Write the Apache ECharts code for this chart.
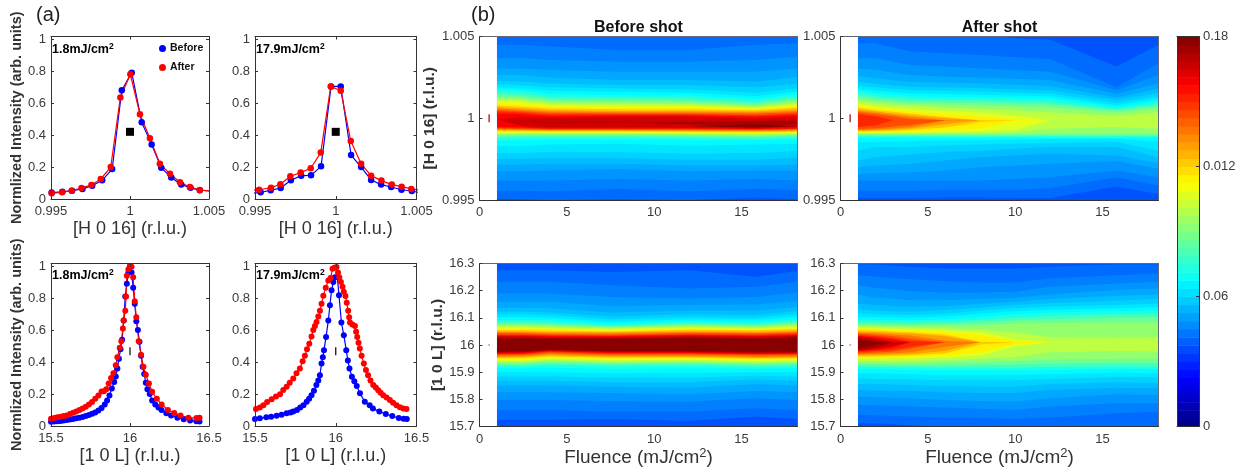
<!DOCTYPE html>
<html>
<head>
<meta charset="utf-8">
<style>html,body{margin:0;padding:0;background:#fff}#c{width:1240px;height:468px}</style>
<script src="https://cdn.jsdelivr.net/npm/echarts@6/dist/echarts.min.js"></script>
</head>
<body>
<div id="c"></div>
<script>
// ---------- line panels (a) ----------
const hScanBefore18X = [0.99448,0.99504,0.99572,0.99633,0.99699,0.99761,0.99824,0.99887,0.99948,1.00011,1.00074,1.00137,1.00198,1.00261,1.00324,1.00383,1.00442,1.00505];
const hScanBefore18Y = [0.02,0.04,0.045,0.052,0.063,0.083,0.117,0.187,0.68,0.79,0.48,0.34,0.195,0.135,0.09,0.07,0.055,0.05];
const hScanAfter18X = [0.99448,0.99504,0.9957,0.99631,0.99693,0.99756,0.99815,0.99878,0.99939,1.00002,1.00063,1.00126,1.00189,1.00253,1.00316,1.00379,1.00442,1.00505];
const hScanAfter18Y = [0.03,0.036,0.042,0.052,0.068,0.088,0.125,0.2,0.635,0.78,0.53,0.38,0.22,0.158,0.105,0.075,0.056,0.05];
const hScanBefore179X = [0.9948,0.99535,0.99597,0.99659,0.99722,0.99786,0.99847,0.99909,0.99971,1.00031,1.00095,1.00157,1.00219,1.00281,1.00343,1.00407,1.00471,1.0052];
const hScanBefore179Y = [0.035,0.042,0.054,0.069,0.117,0.146,0.148,0.204,0.704,0.704,0.275,0.2,0.119,0.09,0.075,0.058,0.05,0.04];
const hScanAfter179X = [0.9948,0.99525,0.99599,0.99657,0.99719,0.99783,0.99845,0.99907,0.99969,1.00031,1.00093,1.00157,1.00219,1.00283,1.00347,1.00408,1.00468,1.0052];
const hScanAfter179Y = [0.054,0.058,0.071,0.092,0.142,0.165,0.192,0.29,0.704,0.677,0.3625,0.22,0.146,0.115,0.09,0.077,0.063,0.055];

const lScanBefore18X = [15.5,15.52,15.54,15.56,15.58,15.6,15.62,15.64,15.66,15.68,15.7,15.72,15.74,15.76,15.78,15.8,15.82,15.84,15.855,15.87,15.885,15.9,15.91,15.92,15.93,15.94,15.95,15.96,15.97,15.98,15.99,16,16.01,16.02,16.03,16.04,16.05,16.06,16.07,16.08,16.09,16.1,16.11,16.125,16.14,16.16,16.18,16.2,16.23,16.26,16.3,16.34,16.38,16.42,16.44];
const lScanBefore18Y = [0.026,0.028,0.03,0.032,0.034,0.037,0.04,0.044,0.048,0.052,0.057,0.062,0.068,0.076,0.085,0.097,0.112,0.135,0.16,0.19,0.235,0.275,0.31,0.36,0.42,0.48,0.54,0.66,0.81,0.89,0.96,1,0.96,0.865,0.765,0.655,0.6,0.526,0.44,0.37,0.325,0.27,0.23,0.2,0.16,0.135,0.115,0.1,0.08,0.065,0.052,0.042,0.035,0.03,0.028];
const lScanAfter18X = [15.5,15.52,15.54,15.56,15.58,15.6,15.62,15.64,15.66,15.68,15.7,15.72,15.74,15.76,15.78,15.8,15.82,15.835,15.85,15.865,15.88,15.895,15.91,15.92,15.935,15.945,15.955,15.96,15.97,15.975,15.98,15.99,16,16.01,16.02,16.03,16.04,16.055,16.07,16.085,16.1,16.12,16.14,16.17,16.2,16.24,16.28,16.32,16.37,16.42,16.44];
const lScanAfter18Y = [0.045,0.05,0.055,0.058,0.062,0.066,0.075,0.083,0.09,0.1,0.11,0.12,0.135,0.15,0.17,0.19,0.215,0.218,0.23,0.265,0.3,0.33,0.38,0.43,0.49,0.53,0.61,0.66,0.72,0.81,0.94,0.98,0.995,0.995,0.93,0.78,0.68,0.53,0.445,0.37,0.32,0.266,0.214,0.17,0.135,0.1,0.082,0.065,0.052,0.05,0.052];
const lScanBefore179X = [15.5,15.53,15.57,15.6,15.634,15.665,15.696,15.72,15.737,15.76,15.78,15.8,15.82,15.835,15.85,15.865,15.88,15.892,15.902,15.912,15.92,15.927,15.94,15.954,15.964,15.974,15.985,15.995,16.01,16.02,16.035,16.05,16.065,16.075,16.085,16.1,16.115,16.13,16.15,16.18,16.21,16.23,16.27,16.31,16.35,16.39,16.42,16.44];
const lScanBefore179Y = [0.044,0.048,0.054,0.058,0.064,0.07,0.08,0.085,0.09,0.1,0.115,0.13,0.152,0.17,0.193,0.22,0.256,0.285,0.318,0.39,0.43,0.474,0.557,0.66,0.755,0.848,0.9,0.93,0.93,0.817,0.647,0.568,0.474,0.41,0.36,0.308,0.28,0.25,0.204,0.152,0.13,0.11,0.09,0.075,0.062,0.05,0.046,0.044];
const lScanAfter179X = [15.506,15.53,15.552,15.575,15.603,15.63,15.655,15.675,15.696,15.715,15.737,15.757,15.778,15.795,15.809,15.822,15.836,15.85,15.861,15.871,15.881,15.892,15.902,15.912,15.923,15.938,15.954,15.968,15.98,15.992,16.005,16.014,16.022,16.032,16.042,16.05,16.06,16.068,16.077,16.083,16.088,16.103,16.119,16.126,16.133,16.141,16.149,16.16,16.174,16.187,16.2,16.215,16.232,16.248,16.263,16.278,16.294,16.315,16.335,16.355,16.376,16.397,16.418,16.438];
const lScanAfter179Y = [0.106,0.115,0.13,0.15,0.168,0.185,0.198,0.225,0.245,0.27,0.297,0.33,0.36,0.405,0.44,0.48,0.515,0.56,0.6,0.625,0.65,0.685,0.72,0.765,0.815,0.865,0.91,0.925,0.983,0.99,0.994,0.96,0.93,0.9,0.87,0.84,0.813,0.77,0.72,0.68,0.647,0.635,0.626,0.59,0.557,0.52,0.484,0.44,0.39,0.35,0.318,0.285,0.256,0.24,0.224,0.208,0.193,0.178,0.162,0.145,0.13,0.118,0.11,0.106];

const hTickValues = [0.995,1,1.005];
const lTickValues = [15.5,16,16.5];
const intensityTicks = [0,0.2,0.4,0.6,0.8,1];
const hResolutionMark = [[1,0.42]];
const lResolutionMark = [[16,0.468]];

// ---------- contour maps (b): colour-scale level, then the ridge offset of that level's
// upper and lower edge at each fluence node. H offsets are in 1e-5 r.l.u. about 1, L offsets in 1e-3 r.l.u. about 16.
const colorLevels = [0.22,0.24,0.26,0.28,0.30,0.32,0.34,0.36,0.38,0.42,0.46,0.50,0.54,0.58,0.62,0.66,0.70,0.74,0.78,0.82,0.86,0.90,0.94,0.98];
const baseLevel = 0.205;
const hUnit = 1e-5, lUnit = 1e-3;

const beforeHNodes = [1,2.5,4,8,12,15.8,18.2];
const beforeHUpper = [
[530,530,530,530,530,530,530],[449,449,439,418,418,449,459],[367,367,357,346,346,357,377],[305,305,295,285,285,285,305],
[264,264,250,234,234,223,254],[230,223,213,203,203,189,213],[209,201,189,182,176,156,182],[189,180,168,162,156,135,164],
[176,168,148,141,139,117,148],[160,152,131,125,123,103,131],[146,135,117,111,109,90,119],[131,123,105,98,96,80,107],
[119,111,94,88,86,72,94],[107,98,84,78,76,64,86],[90,82,72,66,66,57,76],[78,70,59,55,55,49,66],
[68,59,49,45,45,41,55],[59,51,41,37,37,35,45],[51,43,33,31,31,27,37],[43,35,25,25,25,18,29],
[29,25,16,18,18,10,20],[-8,8,4,10,10,-2,8],[-12,-12,-25,-27,-23,-16,-16],[-49,-49,-49,-49,-49,-37,-49]];
const beforeHLower = [
[-492,-496,-500,-496,-500,-484,-494],[-443,-443,-447,-433,-447,-433,-439],[-381,-381,-381,-371,-381,-371,-381],[-324,-324,-320,-310,-324,-320,-320],
[-283,-283,-279,-279,-289,-289,-283],[-248,-248,-242,-244,-254,-254,-242],[-213,-213,-207,-207,-217,-213,-201],[-172,-172,-160,-156,-168,-160,-156],
[-139,-135,-131,-131,-135,-135,-131],[-123,-121,-119,-119,-121,-125,-119],[-111,-109,-107,-107,-111,-115,-109],[-103,-100,-100,-100,-103,-107,-103],
[-96,-94,-94,-94,-96,-100,-96],[-90,-88,-90,-90,-92,-94,-90],[-84,-84,-84,-84,-86,-90,-86],[-78,-78,-80,-80,-82,-84,-82],
[-72,-74,-76,-76,-78,-80,-76],[-68,-70,-72,-72,-74,-76,-72],[-64,-66,-70,-70,-70,-72,-68],[-59,-62,-66,-66,-66,-70,-64],
[-53,-57,-62,-62,-62,-66,-62],[-8,-49,-57,-57,-57,-62,-53],[-12,-12,-29,-29,-37,-53,-37],[-49,-49,-49,-49,-49,-57,-49]];

const afterHNodes = [1,2,3,4,6,8,10,12,15.8,18.2];
const afterHUpper = [
[521,521,521,521,521,510,490,480,316,449],[459,459,433,408,398,387,373,361,189,336],[367,367,346,326,316,305,295,285,172,264],[305,295,280,264,254,250,242,234,148,213],
[258,244,233,223,217,213,205,197,127,180],[223,209,201,193,189,185,176,172,111,156],[197,189,180,172,168,164,156,152,94,135],[180,168,160,152,148,144,139,135,78,119],
[168,152,143,135,131,127,123,119,66,103],[152,135,127,119,113,111,107,100,57,88],[135,119,112,105,98,96,90,86,49,76],[121,105,97,90,84,78,72,66,35,59],
[105,90,83,76,66,57,49,37,14,37],[90,74,66,57,45,33,16,-12,-12,-12],[74,59,49,39,25,8,-8,-12,-12,-12],[64,49,39,29,8,-12,-12,-12,-12,-12],
[53,41,29,18,0,-12,-12,-12,-12,-12],[45,33,21,8,-12,-12,-12,-12,-12,-12],[37,25,10,-4,-12,-12,-12,-12,-12,-12],[25,12,-12,-12,-12,-12,-12,-12,-12,-12]];
const afterHLower = [
[-488,-488,-488,-488,-484,-484,-488,-488,-418,-463],[-443,-443,-443,-443,-439,-439,-439,-426,-361,-412],[-381,-381,-381,-381,-381,-381,-371,-361,-320,-361],[-340,-336,-333,-330,-320,-299,-289,-279,-262,-310],
[-299,-289,-284,-279,-258,-238,-228,-217,-228,-275],[-258,-238,-230,-221,-207,-201,-187,-176,-176,-238],[-197,-176,-176,-176,-166,-160,-156,-152,-146,-197],[-146,-146,-142,-139,-135,-135,-131,-127,-125,-146],
[-119,-119,-119,-119,-119,-119,-119,-119,-119,-119],[-111,-111,-111,-111,-111,-111,-111,-111,-111,-111],[-105,-105,-105,-105,-105,-105,-105,-105,-105,-105],[-98,-98,-98,-98,-98,-98,-98,-94,-94,-94],
[-94,-94,-94,-94,-92,-90,-86,-64,-53,-64],[-90,-90,-89,-88,-84,-78,-70,-12,-12,-12],[-84,-84,-82,-80,-74,-62,-16,-12,-12,-12],[-80,-78,-76,-70,-57,-23,-12,-12,-12,-12],
[-76,-74,-69,-62,-37,-12,-12,-12,-12,-12],[-72,-68,-62,-53,-16,-12,-12,-12,-12,-12],[-66,-62,-50,-41,-12,-12,-12,-12,-12,-12],[-53,-45,-12,-12,-12,-12,-12,-12,-12,-12]];

const beforeLNodes = [1,2.5,4,7.5,12,15.8,18.2];
const beforeLUpper = [
[275,275,275,269,275,251,272],[233,233,233,220,208,214,233],[190,190,190,177,171,177,193],[159,159,159,144,147,149,162],
[137,137,135,120,127,127,140],[122,122,120,105,113,110,125],[113,113,110,95,103,100,115],[103,103,100,86,95,93,105],
[93,93,91,78,88,84,95],[86,86,83,73,82,78,88],[80,80,77,69,77,73,82],[75,75,72,65,72,69,77],
[70,70,67,61,69,65,72],[65,65,62,58,65,61,67],[60,60,58,54,60,58,62],[55,55,53,50,56,54,58],
[50,50,48,47,51,49,53],[47,47,44,43,48,45,49],[43,43,40,39,44,42,45],[39,39,37,35,40,38,42],
[35,35,33,33,37,34,38],[32,32,29,29,33,31,34],[28,28,26,26,29,27,31],[24,24,23,23,26,23,26]];
const beforeLLower = [
[-275,-275,-275,-272,-279,-263,-272],[-239,-239,-239,-245,-245,-233,-239],[-202,-202,-202,-206,-208,-196,-202],[-174,-174,-174,-177,-181,-169,-174],
[-149,-149,-149,-154,-157,-144,-149],[-132,-132,-132,-137,-137,-127,-132],[-116,-116,-116,-120,-120,-113,-116],[-100,-100,-100,-104,-103,-100,-100],
[-86,-86,-83,-88,-86,-87,-86],[-78,-78,-73,-78,-76,-80,-78],[-73,-73,-67,-71,-69,-73,-71],[-67,-67,-61,-66,-64,-69,-66],
[-62,-62,-56,-61,-59,-64,-61],[-58,-58,-51,-56,-54,-59,-56],[-53,-53,-47,-51,-50,-54,-53],[-49,-48,-42,-47,-47,-50,-49],
[-45,-44,-37,-43,-43,-47,-45],[-42,-40,-33,-39,-39,-43,-42],[-38,-37,-29,-35,-35,-39,-38],[-34,-33,-26,-32,-32,-35,-34],
[-32,-31,-23,-29,-29,-33,-32],[-29,-28,-21,-27,-27,-31,-29],[-27,-26,-18,-24,-24,-28,-27],[-24,-23,-17,-23,-23,-26,-24]];

const afterLNodes = [1,2,3,4,6,8,10,12,15.8,18.2];
const afterLUpper = [
[296,296,292,288,282,282,282,288,296,296],[257,251,246,242,235,230,230,245,257,263],[220,211,204,198,193,193,196,214,226,233],[186,174,170,165,165,169,174,186,202,208],
[153,147,144,141,144,152,159,169,181,186],[132,127,124,122,129,137,147,154,163,169],[118,113,111,110,115,127,135,142,147,153],[103,103,101,100,105,115,125,130,135,140],
[93,93,92,91,95,103,113,120,125,127],[86,86,84,83,86,93,100,108,113,115],[80,78,77,76,78,83,91,95,100,103],[73,72,71,70,71,73,78,81,83,83],
[69,67,65,64,61,56,47,29,27,29],[64,62,60,58,54,47,22,10,10,10],[59,58,55,53,47,37,12,10,10,10],[54,53,50,47,39,12,10,10,10,10],
[49,48,45,42,32,10,10,10,10,10],[45,43,39,35,16,10,10,10,10,10],[42,38,33,24,10,10,10,10,10,10],[38,33,27,15,10,10,10,10,10,10],
[34,28,20,10,10,10,10,10,10,10],[31,23,10,10,10,10,10,10,10,10],[26,17,10,10,10,10,10,10,10,10],[20,10,10,10,10,10,10,10,10,10]];
const afterLLower = [
[-288,-288,-292,-296,-300,-304,-304,-304,-300,-300],[-257,-259,-261,-263,-267,-269,-272,-267,-251,-245],[-220,-223,-224,-226,-230,-235,-239,-226,-214,-214],[-190,-192,-194,-196,-202,-206,-208,-196,-181,-184],
[-165,-168,-168,-169,-174,-177,-177,-166,-157,-159],[-144,-144,-145,-147,-151,-153,-153,-144,-137,-140],[-122,-125,-126,-127,-130,-130,-130,-125,-118,-120],[-104,-105,-106,-108,-110,-110,-110,-108,-102,-104],
[-88,-89,-90,-92,-94,-94,-95,-92,-88,-89],[-80,-81,-82,-83,-84,-84,-84,-81,-78,-80],[-72,-73,-74,-75,-75,-73,-72,-69,-66,-67],[-66,-66,-66,-66,-64,-62,-60,-54,-51,-51],
[-59,-59,-59,-59,-56,-51,-44,-27,-22,-24],[-51,-51,-50,-50,-47,-39,-5,10,10,10],[-47,-47,-46,-44,-39,-27,5,10,10,10],[-42,-42,-40,-38,-31,2,10,10,10,10],
[-38,-37,-35,-33,-22,10,10,10,10,10],[-34,-32,-30,-27,-6,10,10,10,10,10],[-31,-28,-25,-14,10,10,10,10,10,10],[-27,-23,-18,-6,10,10,10,10,10,10],
[-23,-18,-10,10,10,10,10,10,10,10],[-21,-15,-2,10,10,10,10,10,10,10],[-18,-9,10,10,10,10,10,10,10,10],[-15,2,10,10,10,10,10,10,10,10]];

const fluenceTicks = [0,5,10,15];
const hMapTicks = [0.995,1,1.005];
const lMapTicks = [15.7,15.8,15.9,16,16.1,16.2,16.3];
const hMapMark = [[0.55,1]];
const lMapMark = [[0.55,16]];

const jetStops = ['#000080','#0000ff','#0080ff','#00ffff','#80ff80','#ffff00','#ff8000','#ff0000','#800000'];
const colorbarBands = [0,0.00375,0.0075,0.01125,0.015,0.01875,0.0225,0.02625,0.03,0.03375,0.0375,0.04125,0.045,0.04875,0.0525,0.05625,0.06,0.06375,0.0675,0.07125,0.075,0.07875,0.0825,0.08625,0.09,0.09375,0.0975,0.10125,0.105,0.10875,0.1125,0.11625,0.12,0.12375,0.1275,0.13125,0.135,0.13875,0.1425,0.14625,0.15,0.15375,0.1575,0.16125,0.165,0.16875,0.1725,0.17625];
const colorbarMax = 0.18;
const colorbarTicks = [0,0.06,0.12,0.18];
const colorbarLabels = ['0','0.06','0.012','0.18'];

// ---------- option building ----------
const FF = '"Liberation Sans", Arial, Helvetica, sans-serif';
const INK = '#333';
const pair = (xs, ys) => xs.map((x, i) => [x, ys[i]]);
const grids = [
  [51, 36.5, 158, 162.5], [255, 36.5, 161.5, 162.5], [51, 263.5, 158, 162.5], [255, 263.5, 161.5, 162.5],
  [479.5, 36.5, 318, 163.5], [840.5, 36.5, 318, 163.5], [479.5, 263.5, 318, 163], [840.5, 263.5, 318, 163],
  [1177, 36.5, 22, 390]
].map(g => ({left: g[0], top: g[1], width: g[2], height: g[3], outerBoundsMode: 'none', containLabel: false, show: false}));

const xAxes = [], yAxes = [], series = [];
const tick = {show: true, inside: true, length: 3, lineStyle: {color: INK, width: 1}};
const labelStyle = {fontFamily: FF, fontSize: 13, color: '#3a3a3a'};

function addAxes(i, c) {
  const frame = {lineStyle: {color: c.frameColor || INK, width: 1}, onZero: false, show: true};
  const main = {lineStyle: {color: INK, width: 1}, onZero: false, show: true};
  xAxes.push({gridIndex: i, type: 'value', position: 'bottom', min: c.xMin, max: c.xMax, z: 5,
    splitLine: {show: false}, axisLine: main,
    axisTick: c.xTick === false ? {show: false} : Object.assign({customValues: c.xTicks}, tick),
    axisLabel: c.xTicks ? {customValues: c.xTicks, margin: 6, hideOverlap: false, showMinLabel: true, showMaxLabel: true, ...labelStyle} : {show: false},
    name: c.xName || '', nameLocation: 'middle', nameGap: c.xGap || 20,
    nameTextStyle: {fontFamily: FF, fontSize: 18, color: INK, rich: {a: {fontFamily: FF, fontSize: 19, color: INK}, s: {fontFamily: FF, fontSize: 13, color: INK, padding: [0, 0, 9, 0]}}}
  });
  xAxes.push({gridIndex: i, type: 'value', position: 'top', min: c.xMin, max: c.xMax, z: 5,
    splitLine: {show: false}, axisLine: frame,
    axisTick: (c.xTicks && c.xTick !== false) ? Object.assign({customValues: c.xTicks}, tick) : {show: false},
    axisLabel: {show: false},
    name: c.title || '', nameLocation: 'middle', nameGap: 1,
    nameTextStyle: {fontFamily: FF, fontSize: 16, fontWeight: 'bold', color: '#111'}
  });
  yAxes.push({gridIndex: i, type: 'value', position: 'left', min: c.yMin, max: c.yMax, z: 5,
    splitLine: {show: false}, axisLine: main,
    axisTick: c.yTicks ? Object.assign({customValues: c.yTicks}, tick) : {show: false},
    axisLabel: c.yTicks ? {customValues: c.yTicks, margin: 5, hideOverlap: false, showMinLabel: true, showMaxLabel: true, ...labelStyle} : {show: false},
    name: c.yName || '', nameLocation: 'middle', nameGap: c.yGap || 27, nameRotate: 90,
    nameTextStyle: {fontFamily: FF, fontSize: c.yNameSize || 14.5, fontWeight: 'bold', color: INK}
  });
  yAxes.push({gridIndex: i, type: 'value', position: 'right', min: c.yMin, max: c.yMax, z: 5,
    splitLine: {show: false}, axisLine: frame,
    axisTick: c.rightTicks ? Object.assign({customValues: c.rightTicks}, tick) : {show: false},
    axisLabel: c.rightLabels ? {customValues: c.rightTicks, margin: 4, hideOverlap: false, showMinLabel: true, showMaxLabel: true,
      formatter: v => c.rightLabels[c.rightTicks.findIndex(t => Math.abs(t - v) < 1e-9)], ...labelStyle} : {show: false}
  });
}

function linePanel(i, before, after, mark, markSize, markerSize) {
  const common = {type: 'line', xAxisIndex: 2 * i, yAxisIndex: 2 * i, symbol: 'circle', symbolSize: markerSize, showSymbol: true,
    showAllSymbol: true, clip: true, animation: false, silent: true};
  series.push(Object.assign({name: 'Before', data: before, itemStyle: {color: '#0000ff'}}, common, {lineStyle: {width: 1.2, color: '#0000ff'}}));
  series.push(Object.assign({name: 'After', data: after, itemStyle: {color: '#ff0000'}}, common, {lineStyle: {width: 1.2, color: '#ff0000'}}));
  series.push({type: 'scatter', name: 'Resolution', xAxisIndex: 2 * i, yAxisIndex: 2 * i, data: mark, symbol: 'rect', symbolSize: markSize,
    itemStyle: {color: '#000', opacity: 1}, silent: true, animation: false, z: 4});
}

function contourPanel(i, nodes, upper, lower, center, unit, mark, markSize) {
  const levels = colorLevels.slice(0, upper.length);
  const fillOf = k => {
    const nextLevel = k + 1 < colorLevels.length ? colorLevels[k + 1] : 1;
    return echarts.color.lerp((colorLevels[k] + nextLevel) / 2, jetStops);
  };
  series.push({type: 'custom', name: 'Map base', xAxisIndex: 2 * i, yAxisIndex: 2 * i, clip: true, silent: true, animation: false, z: 2,
    data: [[nodes[0], center]], encode: {x: 0, y: 1},
    renderItem: (p, api) => {
      const a = api.coord([nodes[0], center]);
      const area = p.coordSys;
      return {type: 'rect', shape: {x: a[0], y: area.y, width: area.x + area.width - a[0], height: area.height},
        style: {fill: echarts.color.lerp(baseLevel, jetStops)}};
    }
  });
  series.push({type: 'custom', name: 'Map contours', xAxisIndex: 2 * i, yAxisIndex: 2 * i, clip: true, silent: true, animation: false, z: 3,
    data: levels.map(t => [nodes[0], center, t]), encode: {x: 0, y: 1},
    renderItem: (p, api) => {
      const k = p.dataIndex, pts = [];
      nodes.forEach((x, n) => pts.push(api.coord([x, center + upper[k][n] * unit])));
      for (let n = nodes.length - 1; n >= 0; n--) pts.push(api.coord([nodes[n], center + lower[k][n] * unit]));
      return {type: 'polygon', shape: {points: pts}, style: {fill: fillOf(k)}};
    }
  });
  series.push({type: 'scatter', name: 'Resolution', xAxisIndex: 2 * i, yAxisIndex: 2 * i, data: mark, symbol: 'rect', symbolSize: markSize,
    itemStyle: {color: '#a00000', opacity: 1}, silent: true, animation: false, z: 4});
}

const yTop = 1.016;
addAxes(0, {xMin: 0.995, xMax: 1.005, yMin: 0, yMax: yTop, xTicks: hTickValues, yTicks: intensityTicks, rightTicks: intensityTicks, xName: '[H 0 16] (r.l.u.)', xGap: 21, yName: 'Normlized Intensity (arb. units)'});
addAxes(1, {xMin: 0.995, xMax: 1.005, yMin: 0, yMax: yTop, xTicks: hTickValues, yTicks: intensityTicks, rightTicks: intensityTicks, xName: '[H 0 16] (r.l.u.)', xGap: 21});
addAxes(2, {xMin: 15.5, xMax: 16.5, yMin: 0, yMax: yTop, xTicks: lTickValues, yTicks: intensityTicks, rightTicks: intensityTicks, xName: '[1 0 L] (r.l.u.)', xGap: 21, yName: 'Normlized Intensity (arb. units)'});
addAxes(3, {xMin: 15.5, xMax: 16.5, yMin: 0, yMax: yTop, xTicks: lTickValues, yTicks: intensityTicks, rightTicks: intensityTicks, xName: '[1 0 L] (r.l.u.)', xGap: 21});

const fluenceName = '{a|Fluence (mJ/cm}{s|2}{a|)}';
const mapFrame = '#667';
addAxes(4, {xMin: 0, xMax: 18.2, yMin: 0.995, yMax: 1.005, xTicks: fluenceTicks, xTick: false, yTicks: hMapTicks, frameColor: mapFrame, title: 'Before shot', yName: '[H 0 16] (r.l.u.)', yGap: 33, yNameSize: 15.5});
addAxes(5, {xMin: 0, xMax: 18.2, yMin: 0.995, yMax: 1.005, xTicks: fluenceTicks, xTick: false, yTicks: hMapTicks, frameColor: mapFrame, title: 'After shot'});
addAxes(6, {xMin: 0, xMax: 18.2, yMin: 15.7, yMax: 16.3, xTicks: fluenceTicks, xTick: false, yTicks: lMapTicks, frameColor: mapFrame, xName: fluenceName, xGap: 20, yName: '[1 0 L] (r.l.u.)', yGap: 32, yNameSize: 15.5});
addAxes(7, {xMin: 0, xMax: 18.2, yMin: 15.7, yMax: 16.3, xTicks: fluenceTicks, xTick: false, yTicks: lMapTicks, frameColor: mapFrame, xName: fluenceName, xGap: 20});
addAxes(8, {xMin: 0, xMax: 1, yMin: 0, yMax: colorbarMax, xTick: false, rightTicks: colorbarTicks, rightLabels: colorbarLabels, frameColor: INK});

linePanel(0, pair(hScanBefore18X, hScanBefore18Y), pair(hScanAfter18X, hScanAfter18Y), hResolutionMark, [8, 8], 6.5);
linePanel(1, pair(hScanBefore179X, hScanBefore179Y), pair(hScanAfter179X, hScanAfter179Y), hResolutionMark, [8, 8], 6.5);
linePanel(2, pair(lScanBefore18X, lScanBefore18Y), pair(lScanAfter18X, lScanAfter18Y), lResolutionMark, [1.2, 8], 6);
linePanel(3, pair(lScanBefore179X, lScanBefore179Y), pair(lScanAfter179X, lScanAfter179Y), lResolutionMark, [1.2, 8], 6);

contourPanel(4, beforeHNodes, beforeHUpper, beforeHLower, 1, hUnit, hMapMark, [1.2, 8]);
contourPanel(5, afterHNodes, afterHUpper, afterHLower, 1, hUnit, hMapMark, [1.2, 8]);
contourPanel(6, beforeLNodes, beforeLUpper, beforeLLower, 16, lUnit, lMapMark, [1.2, 1.2]);
contourPanel(7, afterLNodes, afterLUpper, afterLLower, 16, lUnit, lMapMark, [1.2, 1.2]);

series.push({type: 'custom', name: 'Colour bar', xAxisIndex: 16, yAxisIndex: 16, clip: true, silent: true, animation: false, z: 2,
  data: colorbarBands.map(v => [0, v]), encode: {x: 0, y: 1},
  renderItem: (p, api) => {
    const v = colorbarBands[p.dataIndex], top = p.dataIndex + 1 < colorbarBands.length ? colorbarBands[p.dataIndex + 1] : colorbarMax;
    const a = api.coord([0, top]), b = api.coord([1, v]);
    return {type: 'rect', shape: {x: a[0], y: a[1], width: b[0] - a[0], height: b[1] - a[1] + 0.5},
      style: {fill: echarts.color.lerp((v + top) / 2 / colorbarMax, jetStops)}};
  }
});

const noteRich = {b: {fontFamily: FF, fontSize: 12.5, fontWeight: 'bold', color: '#000'}, s: {fontFamily: FF, fontSize: 8.5, fontWeight: 'bold', color: '#000', padding: [0, 0, 6, 0]}};
const note = (left, top, text) => ({left, top, padding: 0, text, textStyle: {rich: noteRich}});
const panelTag = (left, text) => ({left, top: 5, padding: 0, text, textStyle: {fontFamily: FF, fontSize: 20, fontWeight: 'normal', color: '#222'}});

const chart = echarts.init(document.getElementById('c'), null, {renderer: 'canvas'});
chart.setOption({
  animation: false,
  backgroundColor: '#fff',
  grid: grids, xAxis: xAxes, yAxis: yAxes, series,
  title: [
    panelTag(36, '(a)'), panelTag(471, '(b)'),
    note(52, 42, '{b|1.8mJ/cm}{s|2}'), note(256, 42, '{b|17.9mJ/cm}{s|2}'),
    note(52, 268, '{b|1.8mJ/cm}{s|2}'), note(256, 268, '{b|17.9mJ/cm}{s|2}')
  ],
  legend: {left: 159, top: 43, orient: 'vertical', icon: 'circle', itemWidth: 7, itemHeight: 7, itemGap: 8, padding: 0, selectedMode: false,
    data: ['Before', 'After'], textStyle: {fontFamily: FF, fontSize: 10.5, fontWeight: 'bold', color: '#111', padding: [0, 0, 0, -1]}}
});
</script>
</body>
</html>
